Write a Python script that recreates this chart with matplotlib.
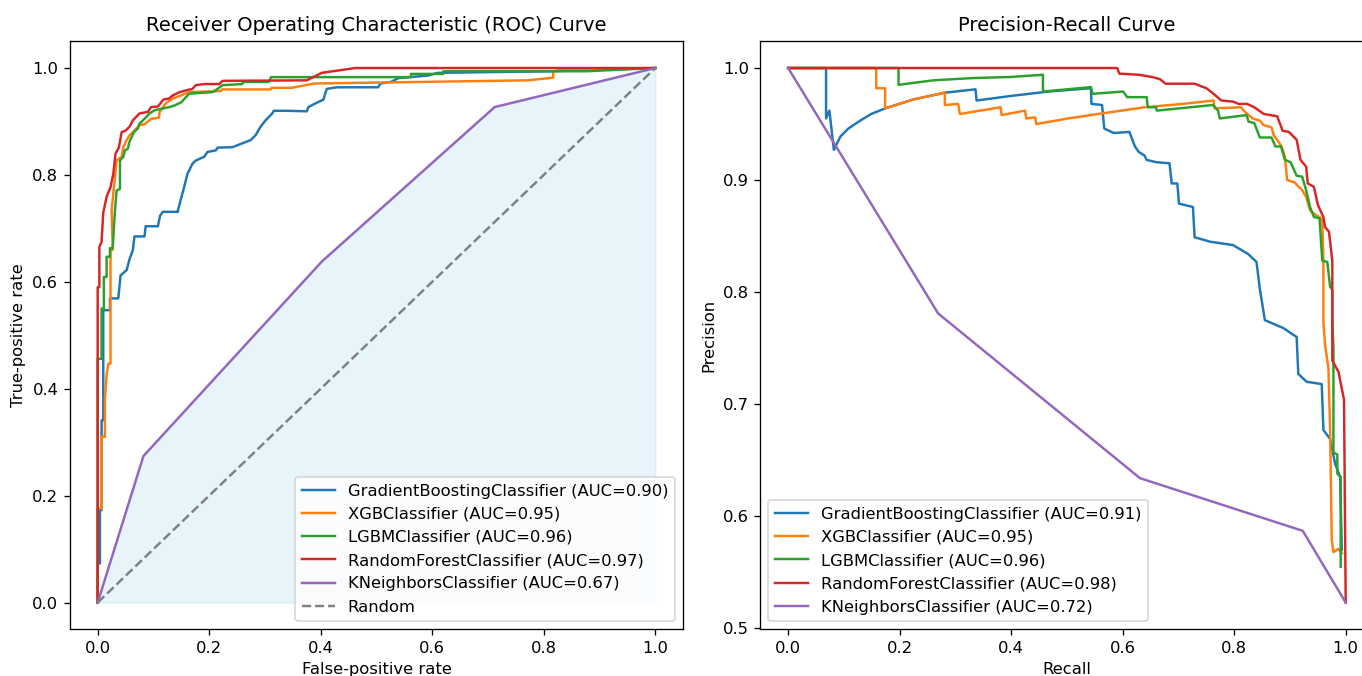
import matplotlib
matplotlib.use('Agg')
import matplotlib.pyplot as plt

# ROC curves (fpr, tpr)
gb_fpr = [0, 0, 0.004, 0.004, 0.007, 0.007, 0.01, 0.01, 0.022, 0.022, 0.037, 0.041, 0.052, 0.057, 0.063,
          0.066, 0.084, 0.086, 0.108, 0.112, 0.117, 0.144, 0.144, 0.155, 0.161, 0.17, 0.176, 0.191, 0.197,
          0.212, 0.215, 0.242, 0.259, 0.274, 0.283, 0.292, 0.301, 0.313, 0.316, 0.343, 0.375, 0.378, 0.389,
          0.405, 0.408, 0.411, 0.429, 0.503, 0.507, 0.526, 0.539, 0.593, 0.61, 0.817, 1.0]
gb_tpr = [0, 0.073, 0.073, 0.173, 0.173, 0.341, 0.341, 0.547, 0.547, 0.569, 0.569, 0.612, 0.622, 0.642, 0.659,
          0.685, 0.685, 0.704, 0.704, 0.724, 0.731, 0.731, 0.734, 0.777, 0.802, 0.821, 0.827, 0.834, 0.843,
          0.846, 0.851, 0.852, 0.859, 0.865, 0.874, 0.89, 0.902, 0.915, 0.92, 0.92, 0.919, 0.927, 0.933,
          0.941, 0.952, 0.961, 0.964, 0.964, 0.971, 0.974, 0.981, 0.986, 0.991, 0.994, 1.0]

xgb_fpr = [0, 0, 0.004, 0.007, 0.007, 0.013, 0.013, 0.016, 0.019, 0.023, 0.023, 0.027, 0.025, 0.034, 0.043,
           0.046, 0.052, 0.057, 0.063, 0.075, 0.084, 0.096, 0.11, 0.111, 0.123, 0.135, 0.15, 0.164, 0.221,
           0.223, 0.31, 0.312, 0.348, 0.388, 0.771, 0.817, 0.817, 0.83, 0.88, 1.0]
xgb_tpr = [0, 0.176, 0.176, 0.176, 0.31, 0.31, 0.382, 0.425, 0.447, 0.447, 0.66, 0.66, 0.734, 0.827, 0.834,
           0.852, 0.865, 0.874, 0.88, 0.893, 0.895, 0.905, 0.907, 0.918, 0.935, 0.943, 0.949, 0.955, 0.957,
           0.96, 0.96, 0.963, 0.963, 0.971, 0.977, 0.982, 0.994, 0.996, 0.998, 1.0]

lgbm_fpr = [0, 0, 0.007, 0.007, 0.011, 0.011, 0.016, 0.016, 0.022, 0.022, 0.027, 0.031, 0.034, 0.04, 0.04,
            0.046, 0.049, 0.054, 0.057, 0.065, 0.072, 0.075, 0.084, 0.093, 0.102, 0.129, 0.138, 0.15, 0.164,
            0.206, 0.215, 0.224, 0.259, 0.262, 0.307, 0.311, 0.562, 0.562, 0.62, 0.62, 0.878, 1.0]
lgbm_tpr = [0, 0.456, 0.456, 0.55, 0.55, 0.609, 0.609, 0.647, 0.647, 0.663, 0.663, 0.734, 0.771, 0.774, 0.827,
            0.834, 0.846, 0.849, 0.862, 0.88, 0.887, 0.896, 0.905, 0.915, 0.921, 0.927, 0.93, 0.936, 0.952,
            0.955, 0.961, 0.968, 0.97, 0.974, 0.974, 0.983, 0.983, 0.989, 0.989, 0.994, 0.994, 1.0]

rf_fpr = [0, 0, 0.003, 0.003, 0.007, 0.01, 0.011, 0.016, 0.023, 0.028, 0.032, 0.038, 0.043, 0.05, 0.057,
          0.063, 0.075, 0.09, 0.096, 0.108, 0.118, 0.128, 0.135, 0.147, 0.158, 0.17, 0.176, 0.191, 0.218,
          0.224, 0.375, 0.402, 0.462, 1.0]
rf_tpr = [0, 0.59, 0.59, 0.665, 0.675, 0.73, 0.734, 0.759, 0.777, 0.802, 0.84, 0.851, 0.88, 0.883, 0.89,
          0.902, 0.915, 0.918, 0.927, 0.928, 0.941, 0.943, 0.949, 0.955, 0.958, 0.961, 0.968, 0.97, 0.97,
          0.976, 0.977, 0.991, 1.0, 1.0]

knn_fpr = [0, 0.082, 0.402, 0.712, 1.0]
knn_tpr = [0, 0.274, 0.638, 0.927, 1.0]

roc_names = ['GradientBoostingClassifier', 'XGBClassifier', 'LGBMClassifier',
             'RandomForestClassifier', 'KNeighborsClassifier']
roc_auc = [0.90, 0.95, 0.96, 0.97, 0.67]

# Precision-recall curves (recall, precision)
gb_rec = [0, 0.068, 0.068, 0.074, 0.082, 0.094, 0.108, 0.129, 0.149, 0.174, 0.225, 0.281, 0.336, 0.338,
          0.398, 0.467, 0.543, 0.544, 0.563, 0.567, 0.584, 0.612, 0.622, 0.629, 0.639, 0.643, 0.66, 0.684,
          0.688, 0.698, 0.701, 0.726, 0.729, 0.757, 0.798, 0.825, 0.84, 0.846, 0.855, 0.888, 0.912, 0.915,
          0.93, 0.957, 0.96, 0.972, 0.981, 0.99, 0.993]
gb_prec = [1.0, 1.0, 0.955, 0.962, 0.927, 0.939, 0.946, 0.953, 0.959, 0.964, 0.972, 0.978, 0.981, 0.971,
           0.975, 0.979, 0.982, 0.968, 0.967, 0.946, 0.942, 0.943, 0.93, 0.925, 0.922, 0.918, 0.916, 0.915,
           0.897, 0.897, 0.879, 0.876, 0.849, 0.845, 0.842, 0.834, 0.827, 0.803, 0.775, 0.768, 0.76, 0.727,
           0.72, 0.718, 0.677, 0.669, 0.647, 0.635, 0.57]

xgb_rec = [0, 0.158, 0.158, 0.174, 0.174, 0.225, 0.281, 0.281, 0.305, 0.308, 0.381, 0.383, 0.425, 0.427,
           0.443, 0.445, 0.502, 0.57, 0.639, 0.708, 0.763, 0.765, 0.812, 0.819, 0.833, 0.846, 0.853, 0.867,
           0.871, 0.877, 0.885, 0.891, 0.895, 0.908, 0.922, 0.929, 0.936, 0.946, 0.953, 0.958, 0.96, 0.96,
           0.963, 0.969, 0.972, 0.975, 0.978, 0.987, 0.993]
xgb_prec = [1.0, 1.0, 0.982, 0.982, 0.964, 0.972, 0.978, 0.967, 0.968, 0.959, 0.965, 0.958, 0.962, 0.955,
            0.956, 0.95, 0.955, 0.96, 0.965, 0.968, 0.971, 0.964, 0.965, 0.961, 0.955, 0.953, 0.949, 0.947,
            0.94, 0.936, 0.93, 0.921, 0.9, 0.898, 0.891, 0.885, 0.873, 0.869, 0.867, 0.864, 0.828, 0.773,
            0.753, 0.732, 0.678, 0.579, 0.568, 0.571, 0.567]

lgbm_rec = [0, 0.198, 0.198, 0.26, 0.329, 0.398, 0.457, 0.457, 0.543, 0.546, 0.601, 0.608, 0.643, 0.645,
            0.66, 0.661, 0.762, 0.771, 0.774, 0.822, 0.826, 0.836, 0.839, 0.846, 0.867, 0.874, 0.884, 0.891,
            0.901, 0.912, 0.922, 0.929, 0.936, 0.943, 0.953, 0.958, 0.967, 0.972, 0.976, 0.976, 0.978, 0.978,
            0.985, 0.985, 0.991, 0.991]
lgbm_prec = [1.0, 1.0, 0.985, 0.989, 0.991, 0.992, 0.994, 0.979, 0.983, 0.977, 0.979, 0.974, 0.974, 0.965,
             0.965, 0.962, 0.967, 0.962, 0.955, 0.958, 0.952, 0.951, 0.947, 0.938, 0.938, 0.93, 0.93, 0.918,
             0.916, 0.904, 0.903, 0.891, 0.876, 0.867, 0.866, 0.828, 0.827, 0.805, 0.802, 0.775, 0.75, 0.657,
             0.655, 0.638, 0.635, 0.555]

rf_rec = [0, 0.59, 0.594, 0.629, 0.653, 0.667, 0.677, 0.729, 0.75, 0.763, 0.777, 0.798, 0.808, 0.823,
          0.836, 0.853, 0.877, 0.887, 0.898, 0.912, 0.919, 0.929, 0.932, 0.943, 0.95, 0.96, 0.963, 0.97,
          0.976, 0.976, 0.987, 0.997, 1.0]
rf_prec = [1.0, 1.0, 0.995, 0.994, 0.992, 0.99, 0.986, 0.986, 0.982, 0.977, 0.971, 0.97, 0.968, 0.968,
           0.965, 0.959, 0.957, 0.944, 0.943, 0.936, 0.918, 0.912, 0.897, 0.894, 0.878, 0.867, 0.858, 0.854,
           0.828, 0.739, 0.729, 0.704, 0.523]

knn_rec = [0, 0.269, 0.631, 0.923, 1.0]
knn_prec = [1.0, 0.781, 0.634, 0.587, 0.523]

pr_auc = [0.91, 0.95, 0.96, 0.98, 0.72]


DPI = 118
fig = plt.figure(figsize=(1362 / DPI, 676 / DPI), dpi=DPI)
ax1 = fig.add_axes([0.05125, 0.0691, 0.4503, 0.8698])
ax2 = fig.add_axes([0.5582, 0.0691, 0.4503, 0.8698])

roc_data = [(gb_fpr, gb_tpr), (xgb_fpr, xgb_tpr), (lgbm_fpr, lgbm_tpr), (rf_fpr, rf_tpr), (knn_fpr, knn_tpr)]
for (x, y), name, auc in zip(roc_data, roc_names, roc_auc):
    ax1.plot(x, y, label=f'{name} (AUC={auc:.2f})')
ax1.fill_between(knn_fpr, knn_tpr, color='skyblue', alpha=0.2)
ax1.plot([0, 1], [0, 1], '--', color='gray', label='Random')
ax1.set_title('Receiver Operating Characteristic (ROC) Curve')
ax1.set_xlabel('False-positive rate')
ax1.set_ylabel('True-positive rate')
ax1.legend(loc='lower right')

pr_data = [(gb_rec, gb_prec), (xgb_rec, xgb_prec), (lgbm_rec, lgbm_prec), (rf_rec, rf_prec), (knn_rec, knn_prec)]
for (x, y), name, auc in zip(pr_data, roc_names, pr_auc):
    ax2.plot(x, y, label=f'{name} (AUC={auc:.2f})')
ax2.set_title('Precision-Recall Curve')
ax2.set_xlabel('Recall')
ax2.set_ylabel('Precision')
ax2.legend(loc='lower left')

fig.savefig('out.png', dpi=DPI)
